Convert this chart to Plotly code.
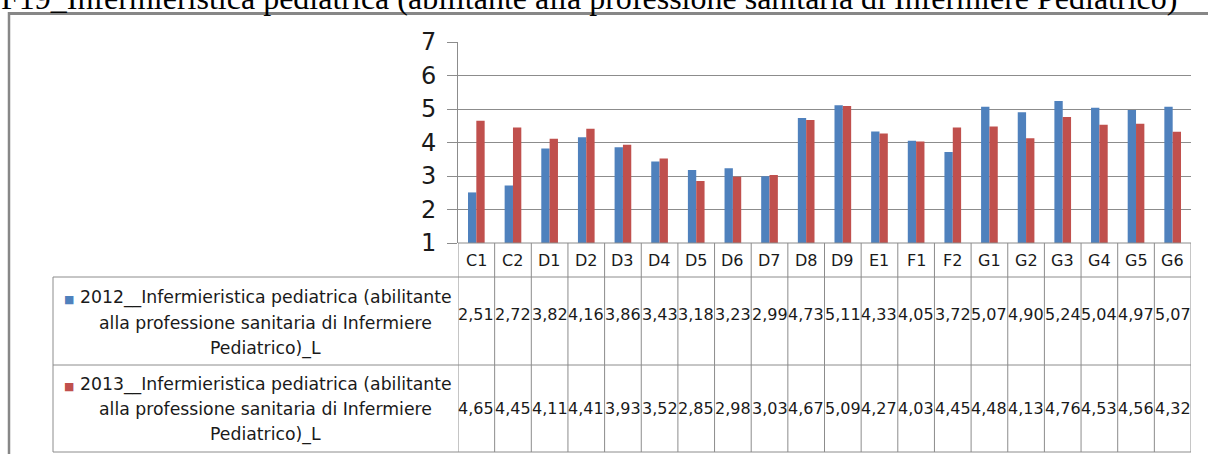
import plotly.graph_objects as go

categories = ["C1", "C2", "D1", "D2", "D3", "D4", "D5", "D6", "D7", "D8",
              "D9", "E1", "F1", "F2", "G1", "G2", "G3", "G4", "G5", "G6"]
values_2012 = [2.51, 2.72, 3.82, 4.16, 3.86, 3.43, 3.18, 3.23, 2.99, 4.73,
               5.11, 4.33, 4.05, 3.72, 5.07, 4.90, 5.24, 5.04, 4.97, 5.07]
values_2013 = [4.65, 4.45, 4.11, 4.41, 3.93, 3.52, 2.85, 2.98, 3.03, 4.67,
               5.09, 4.27, 4.03, 4.45, 4.48, 4.13, 4.76, 4.53, 4.56, 4.32]
series_names = ["2012__Infermieristica pediatrica (abilitante alla professione sanitaria di Infermiere Pediatrico)_L",
                "2013__Infermieristica pediatrica (abilitante alla professione sanitaria di Infermiere Pediatrico)_L"]
legend_lines = [["2012__Infermieristica pediatrica (abilitante", "alla professione sanitaria di Infermiere", "Pediatrico)_L"],
                ["2013__Infermieristica pediatrica (abilitante", "alla professione sanitaria di Infermiere", "Pediatrico)_L"]]
title_text = "F19_Infermieristica pediatrica (abilitante alla professione sanitaria di Infermiere Pediatrico)"
y_ticks = [1, 2, 3, 4, 5, 6, 7]

W, H = 1208, 454
BLUE, RED = "#4F81BD", "#C0504D"
GRID = "#8C8C8C"
FONT = "DejaVu Sans"
TXT = "#1a1a1a"


def px(x):
    return x / W


def py(y):
    return 1 - y / H


def fmt(v):
    return f"{v:.2f}".replace(".", ",")


fig = go.Figure()
fig.add_trace(go.Bar(x=categories, y=values_2012, name=series_names[0],
                     marker=dict(color=BLUE, line=dict(width=0))))
fig.add_trace(go.Bar(x=categories, y=values_2013, name=series_names[1],
                     marker=dict(color=RED, line=dict(width=0))))

X0, X1 = 458, 1191
Y_TOP, Y_AX = 42, 243
Y_CAT, Y_R1, Y_R2 = 277, 365, 452
T_LEFT = 53

shapes = []
line = dict(color=GRID, width=1)
# outer chart border (top and left)
shapes.append(dict(type="line", xref="paper", yref="paper", x0=px(8), x1=px(1220), y0=py(13.5), y1=py(13.5),
                   line=dict(color="#878787", width=3)))
shapes.append(dict(type="line", xref="paper", yref="paper", x0=px(9), x1=px(9), y0=py(12), y1=py(470),
                   line=dict(color="#878787", width=2.5)))
# table horizontal lines
shapes.append(dict(type="line", xref="paper", yref="paper", x0=px(X0), x1=px(X1), y0=py(Y_AX), y1=py(Y_AX), line=line))
for yy in (Y_CAT, Y_R1, Y_R2):
    shapes.append(dict(type="line", xref="paper", yref="paper", x0=px(T_LEFT), x1=px(X1), y0=py(yy), y1=py(yy), line=line))
# table vertical lines
shapes.append(dict(type="line", xref="paper", yref="paper", x0=px(T_LEFT), x1=px(T_LEFT), y0=py(Y_CAT), y1=py(Y_R2), line=line))
for i in range(len(categories) + 1):
    shapes.append(dict(type="line", xref="x", yref="paper", x0=i - 0.5, x1=i - 0.5, y0=py(Y_AX), y1=py(Y_R2), line=line))

annotations = []
annotations.append(dict(text=title_text, xref="paper", yref="paper", x=px(-1), y=py(-2), xanchor="left",
                        yanchor="middle", showarrow=False,
                        font=dict(family="Liberation Serif", size=32, color="#000")))
for i, c in enumerate(categories):
    annotations.append(dict(text=c, xref="x", yref="paper", x=c, y=py(260), xanchor="center", yanchor="middle",
                            showarrow=False, font=dict(family=FONT, size=16, color=TXT)))
    annotations.append(dict(text=fmt(values_2012[i]), xref="x", yref="paper", x=c, y=py(314), xanchor="center",
                            yanchor="middle", showarrow=False, font=dict(family=FONT, size=16, color=TXT)))
    annotations.append(dict(text=fmt(values_2013[i]), xref="x", yref="paper", x=c, y=py(408), xanchor="center",
                            yanchor="middle", showarrow=False, font=dict(family=FONT, size=16, color=TXT)))

LEG_SIZE = 17.3
legend_rows = [(BLUE, [297, 323, 348]), (RED, [384, 409, 434])]
for (col, ys), lines in zip(legend_rows, legend_lines):
    for k, (txt, yy) in enumerate(zip(lines, ys)):
        if k == 0:
            txt = f"<span style='color:{col};font-size:11px'>■</span> " + txt
            cx = 258
        else:
            cx = 265.5
        annotations.append(dict(text=txt, xref="paper", yref="paper", x=px(cx), y=py(yy), xanchor="center",
                                yanchor="middle", showarrow=False, font=dict(family=FONT, size=LEG_SIZE, color=TXT)))

fig.update_layout(
    width=W, height=H, autosize=False,
    margin=dict(l=0, r=0, t=0, b=0, pad=0),
    paper_bgcolor="white", plot_bgcolor="white",
    showlegend=False,
    barmode="group", bargap=0.545, bargroupgap=0,
    xaxis=dict(domain=[px(X0), px(X1)], range=[-0.5, len(categories) - 0.5], type="category",
               showticklabels=False, showgrid=False, zeroline=False, showline=False, ticks="",
               automargin=False),
    yaxis=dict(domain=[py(Y_AX), py(Y_TOP)], range=[1, 7], tickvals=y_ticks, showgrid=True, gridcolor=GRID,
               gridwidth=1, zeroline=False, showline=True, linecolor=GRID, linewidth=1,
               ticks="outside", ticklen=10, tickcolor=GRID, tickwidth=1, automargin=False,
               ticklabelstandoff=6,
               tickfont=dict(family=FONT, size=24, color=TXT)),
    shapes=shapes,
    annotations=annotations,
)

fig.write_html("out.html", config={"displayModeBar": False, "staticPlot": True},
               post_script="document.body.style.margin='0px';document.body.style.overflow='hidden';")
